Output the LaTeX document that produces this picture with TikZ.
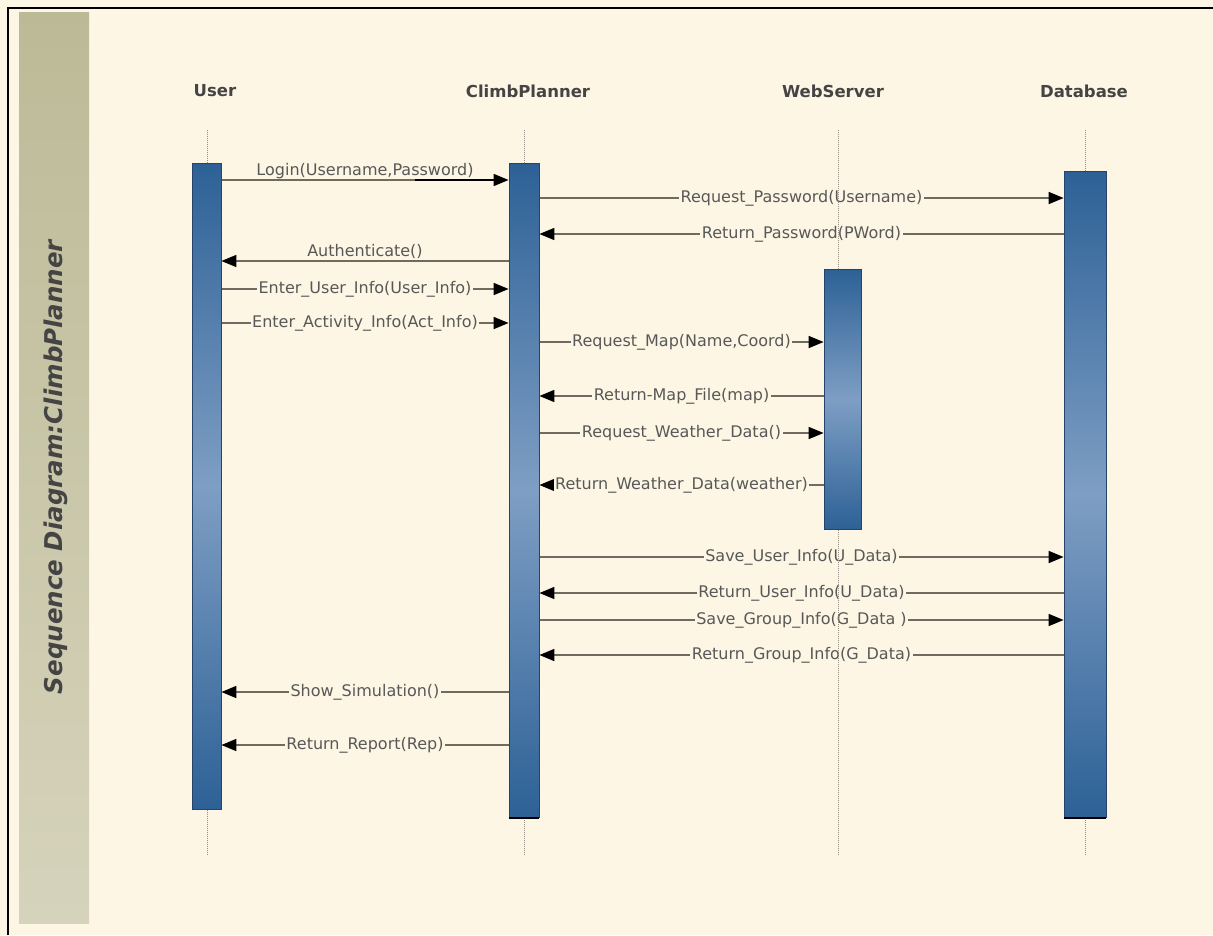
\documentclass[tikz,border=0pt]{standalone}
\usepackage{fontspec}
\setmainfont{DejaVu Sans}
\usetikzlibrary{arrows.meta,calc}
\definecolor{paper}{RGB}{253,246,228}
\definecolor{sideTop}{RGB}{188,186,150}
\definecolor{sideBot}{RGB}{214,211,188}
\definecolor{barDark}{RGB}{45,97,150}
\definecolor{barLight}{RGB}{126,158,196}
\definecolor{barEdge}{RGB}{38,68,105}
\definecolor{msgLine}{RGB}{112,106,96}
\definecolor{msgText}{RGB}{88,88,88}
\definecolor{headText}{RGB}{68,68,68}
\definecolor{lifeLine}{RGB}{150,142,132}
\pgfdeclarelayer{back}
\pgfdeclarelayer{wires}
\pgfsetlayers{back,wires,main}
\tikzset{head/.style={font=\bfseries\fontsize{16.5}{20}\selectfont, text=headText}, bar/.style={draw=barEdge, line width=0.8pt, top color=barDark, bottom color=barDark, middle color=barLight, anchor=north, inner sep=0pt}, lifeline/.style={draw=lifeLine, line width=1pt, dash pattern=on 1pt off 1pt}, msg/.style={draw=msgLine, line width=1.6pt, -{Triangle[length=15pt,width=12pt,color=black]}}, lbl/.style={midway, fill=paper, inner xsep=1.5pt, inner ysep=0pt, text=msgText, font=\fontsize{16}{19}\selectfont}, lblup/.style={lbl, fill=none}}

\begin{document}
\begin{tikzpicture}[x=1pt,y=-1pt]
\useasboundingbox (0,0) rectangle (1213,935);
\begin{pgfonlayer}{back}
\fill[paper] (0,0) rectangle (1213,935);
\draw[line width=2pt] (8,935) -- (8,8) -- (1213,8);
% side panel
\shade[top color=sideTop, bottom color=sideBot] (19,12) rectangle (89,923);
\end{pgfonlayer}
\node[rotate=90, text=headText, font=\bfseries\itshape\fontsize{24.5}{28}\selectfont] (title) at (56,467) {Sequence Diagram:ClimbPlanner};
% headers
\node[head] (hUser) at (215,91) {User};
\node[head] (hCP) at (528,91) {ClimbPlanner};
\node[head] (hWS) at (833,91) {WebServer};
\node[head] (hDB) at (1084,91) {Database};
% lifelines
\foreach \x in {207,524,838,1085}
  \draw[lifeline] (\x,130) -- (\x,855);
% activation bars
\node[bar, minimum width=29pt, minimum height=646pt] (barUser) at (206.5,163) {};
\node[bar, minimum width=30pt, minimum height=654pt] (barCP) at (524,163) {};
\node[bar, minimum width=37pt, minimum height=260pt] (barWS) at (842.5,269) {};
\node[bar, minimum width=42pt, minimum height=646pt] (barDB) at (1085,171) {};
\draw[line width=2.5pt] (barCP.south west) -- (barCP.south east);
\draw[line width=2.5pt] (barDB.south west) -- (barDB.south east);
% message rows
\foreach \n/\y in {1/180,2/198,3/234,4/261,5/289,6/323,7/342,8/396,9/433,10/485,11/557,12/593,13/620,14/655,15/692,16/745}
  \coordinate (r\n) at (0,\y);
\coordinate (loginDark) at (415,180);
\coordinate (loginTip) at (497,180);
% messages
\begin{pgfonlayer}{wires}
\draw[msg] (barUser.east |- r1) -- node[lblup, yshift=9pt]{Login(Username,Password)} (barCP.west |- r1);
\draw[line width=1.6pt] (loginDark) -- (loginTip);
\draw[msg] (barCP.east |- r2) -- node[lbl]{Request\_Password(Username)} (barDB.west |- r2);
\draw[msg] (barDB.west |- r3) -- node[lbl]{Return\_Password(PWord)} (barCP.east |- r3);
\draw[msg] (barCP.west |- r4) -- node[lblup, yshift=10pt]{Authenticate()} (barUser.east |- r4);
\draw[msg] (barUser.east |- r5) -- node[lbl]{Enter\_User\_Info(User\_Info)} (barCP.west |- r5);
\draw[msg] (barUser.east |- r6) -- node[lbl]{Enter\_Activity\_Info(Act\_Info)} (barCP.west |- r6);
\draw[msg] (barCP.east |- r7) -- node[lbl]{Request\_Map(Name,Coord)} (barWS.west |- r7);
\draw[msg] (barWS.west |- r8) -- node[lbl]{Return-Map\_File(map)} (barCP.east |- r8);
\draw[msg] (barCP.east |- r9) -- node[lbl]{Request\_Weather\_Data()} (barWS.west |- r9);
\draw[msg] (barWS.west |- r10) -- node[lbl]{Return\_Weather\_Data(weather)} (barCP.east |- r10);
\draw[msg] (barCP.east |- r11) -- node[lbl]{Save\_User\_Info(U\_Data)} (barDB.west |- r11);
\draw[msg] (barDB.west |- r12) -- node[lbl]{Return\_User\_Info(U\_Data)} (barCP.east |- r12);
\draw[msg] (barCP.east |- r13) -- node[lbl]{Save\_Group\_Info(G\_Data )} (barDB.west |- r13);
\draw[msg] (barDB.west |- r14) -- node[lbl]{Return\_Group\_Info(G\_Data)} (barCP.east |- r14);
\draw[msg] (barCP.west |- r15) -- node[lbl]{Show\_Simulation()} (barUser.east |- r15);
\draw[msg] (barCP.west |- r16) -- node[lbl]{Return\_Report(Rep)} (barUser.east |- r16);
\end{pgfonlayer}
\end{tikzpicture}
\end{document}
